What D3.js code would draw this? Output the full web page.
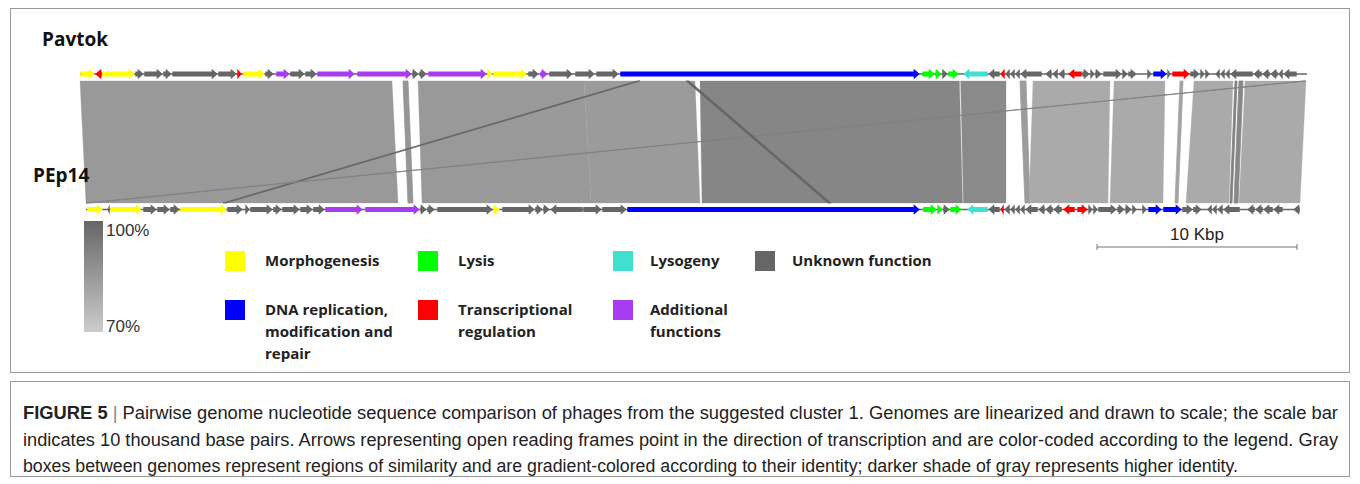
<!DOCTYPE html>
<html>
<head>
<meta charset="utf-8">
<script src="https://cdn.jsdelivr.net/npm/d3@7"></script>
<style>
  body { margin: 0; background: #fff; }
  svg { display: block; }
</style>
</head>
<body>
<div id="chart"></div>
<script>
// genome lengths in kbp
var genomeNames = ["Pavtok", "PEp14"];
var genomeLengths = [61.35, 60.7];

// genes: [start kbp, end kbp, strand, category]
var pavtokGenes = [
  [0.0, 0.75, 1, "M"], [0.75, 1.1, -1, "T"], [1.1, 2.75, 1, "M"], [2.75, 3.2, 1, "U"],
  [3.2, 4.15, 1, "U"], [4.15, 4.6, 1, "U"], [4.6, 6.9, 1, "U"], [6.9, 7.85, 1, "U"],
  [7.85, 8.1, 1, "T"], [8.15, 9.25, 1, "M"], [9.25, 9.7, 1, "U"], [9.8, 10.5, 1, "A"],
  [10.5, 11.25, 1, "U"], [11.25, 11.85, 1, "U"], [11.85, 13.75, 1, "A"], [13.85, 16.6, 1, "A"],
  [16.6, 16.95, 1, "U"], [16.95, 17.35, 1, "U"], [17.4, 20.35, 1, "A"], [20.35, 20.65, 1, "M"],
  [20.65, 22.35, 1, "M"], [22.4, 22.95, 1, "U"], [23.0, 23.4, 1, "A"], [23.45, 24.65, 1, "U"],
  [24.75, 25.75, 1, "U"], [25.8, 26.95, 1, "U"], [27.0, 42.0, 1, "D"], [42.1, 42.75, 1, "L"],
  [42.75, 43.1, 1, "L"], [43.1, 43.4, 1, "U"], [43.4, 43.95, 1, "L"], [44.15, 45.4, -1, "G"],
  [45.4, 46.0, -1, "U"], [46.0, 46.25, -1, "T"], [46.25, 46.5, -1, "U"], [46.5, 46.75, -1, "U"],
  [46.75, 47.0, -1, "U"], [47.0, 48.1, -1, "U"], [48.25, 48.6, -1, "U"], [48.6, 48.9, -1, "U"],
  [48.9, 49.25, -1, "U"], [49.4, 50.1, -1, "T"], [50.1, 50.5, 1, "U"], [50.5, 50.75, 1, "U"],
  [50.75, 51.1, 1, "U"], [51.15, 52.1, 1, "U"], [52.1, 52.4, 1, "U"], [52.4, 52.85, 1, "U"],
  [53.35, 53.6, 1, "U"], [53.65, 54.35, 1, "D"], [54.35, 54.55, 1, "U"], [54.6, 55.5, 1, "T"],
  [55.5, 56.0, 1, "U"], [56.0, 56.25, 1, "U"], [56.25, 56.5, 1, "U"], [56.75, 57.0, -1, "U"],
  [57.0, 57.25, -1, "U"], [57.25, 57.5, -1, "U"], [57.5, 58.65, -1, "U"], [58.65, 59.1, -1, "U"],
  [59.1, 59.5, -1, "U"], [59.5, 59.9, -1, "U"], [59.9, 60.15, -1, "U"], [60.15, 60.85, -1, "U"]
];

var pep14Genes = [
  [0.05, 0.85, 1, "M"], [1.05, 1.2, -1, "U"], [1.2, 2.8, 1, "M"], [2.85, 3.55, 1, "U"],
  [3.55, 4.2, 1, "U"], [4.2, 4.7, 1, "U"], [4.7, 7.05, 1, "M"], [7.05, 7.85, 1, "U"],
  [7.95, 8.2, 1, "U"], [8.2, 9.35, 1, "U"], [9.35, 9.8, 1, "U"], [9.8, 10.7, 1, "U"],
  [10.7, 11.35, 1, "U"], [11.35, 11.95, 1, "U"], [11.95, 13.85, 1, "A"], [13.95, 16.7, 1, "A"],
  [16.7, 17.05, 1, "U"], [17.05, 17.45, 1, "U"], [17.55, 20.35, 1, "U"], [20.35, 20.7, 1, "M"],
  [20.8, 22.45, 1, "U"], [22.45, 22.85, 1, "U"], [22.85, 23.2, 1, "U"], [23.2, 24.85, -1, "U"],
  [24.85, 25.8, 1, "U"], [25.8, 27.05, 1, "U"], [27.05, 41.7, 1, "D"], [41.85, 42.55, 1, "L"],
  [42.55, 42.85, 1, "L"], [42.85, 43.2, 1, "U"], [43.2, 43.8, 1, "L"], [44.05, 45.1, -1, "G"],
  [45.1, 45.7, -1, "U"], [45.7, 45.9, -1, "T"], [45.9, 46.2, -1, "U"], [46.2, 46.45, -1, "U"],
  [46.45, 46.7, -1, "U"], [46.7, 46.95, -1, "U"], [46.95, 47.6, -1, "U"], [47.6, 47.95, -1, "U"],
  [47.95, 48.35, -1, "U"], [48.35, 48.8, -1, "U"], [48.85, 49.45, -1, "T"], [49.55, 50.1, 1, "T"],
  [50.1, 50.35, 1, "U"], [50.35, 50.6, 1, "U"], [50.6, 51.55, 1, "U"], [51.55, 51.95, 1, "U"],
  [51.95, 52.3, 1, "U"], [52.3, 52.55, 1, "U"], [52.8, 53.05, 1, "U"], [53.1, 53.8, 1, "D"],
  [53.85, 54.8, 1, "D"], [54.8, 55.35, 1, "U"], [55.35, 55.8, 1, "U"], [56.05, 56.3, -1, "U"],
  [56.3, 56.55, -1, "U"], [56.55, 56.85, -1, "U"], [56.85, 57.7, -1, "U"], [58.05, 58.45, -1, "U"],
  [58.45, 58.85, -1, "U"], [58.85, 59.35, -1, "U"], [59.35, 59.85, -1, "U"], [60.35, 60.7, -1, "U"]
];

// similarity regions: [Pavtok start, Pavtok end, PEp14 start, PEp14 end, identity %]
var matches = [
  [0.0, 15.6, 0.0, 15.6, 85],
  [16.15, 16.4, 16.1, 16.35, 86],
  [16.9, 25.2, 16.8, 25.25, 85],
  [25.2, 30.75, 25.25, 30.7, 84.5],
  [31.0, 43.97, 30.8, 43.83, 90.5],
  [44.03, 46.3, 43.87, 46.0, 89.5],
  [47.0, 47.3, 46.95, 47.2, 84],
  [47.65, 51.5, 47.15, 51.1, 80],
  [51.7, 54.25, 51.2, 53.85, 80],
  [55.0, 55.15, 54.45, 54.6, 82],
  [55.7, 57.65, 55.0, 57.15, 80],
  [57.75, 57.85, 57.2, 57.3, 92],
  [57.95, 58.15, 57.4, 57.6, 90],
  [58.25, 61.3, 57.65, 60.7, 80],
  // thin cross-links
  [27.85, 28.0, 6.85, 7.0, 100],
  [61.15, 61.3, 0.0, 0.15, 92],
  [30.3, 30.45, 37.1, 37.25, 100]
];

var categories = ["M", "L", "G", "U", "D", "T", "A"];
var categoryNames = ["Morphogenesis", "Lysis", "Lysogeny", "Unknown function",
  "DNA replication,|modification and|repair", "Transcriptional|regulation", "Additional|functions"];
var categoryColors = ["#ffff00", "#00ff00", "#40e0d0", "#666666", "#0000ff", "#ff0000", "#a83cf0"];

var identityTicks = ["100%", "70%"];

var captionLines = [
  "Pairwise genome nucleotide sequence comparison of phages from the suggested cluster 1. Genomes are linearized and drawn to scale; the scale bar",
  "indicates 10 thousand base pairs. Arrows representing open reading frames point in the direction of transcription and are color-coded according to the legend. Gray",
  "boxes between genomes represent regions of similarity and are gradient-colored according to their identity; darker shade of gray represents higher identity."
];

var W = 1360, H = 484;
var pxPerKb = 20;
var topY = 74, botY = 209.5;
var matchTop = 81, matchBot = 203;

var svg = d3.select("#chart").append("svg")
    .attr("width", W)
    .attr("height", H);

// frames
svg.append("rect").attr("x", 10.5).attr("y", 8.5).attr("width", 1339).attr("height", 364)
    .attr("fill", "none").attr("stroke", "#999").attr("stroke-width", 1);
svg.append("rect").attr("x", 10.5).attr("y", 381.5).attr("width", 1339).attr("height", 95)
    .attr("fill", "none").attr("stroke", "#999").attr("stroke-width", 1);

var xTop = d3.scaleLinear().domain([0, genomeLengths[0]]).range([80, 80 + genomeLengths[0] * pxPerKb]);
var xBot = d3.scaleLinear().domain([0, genomeLengths[1]]).range([86, 86 + genomeLengths[1] * pxPerKb]);

var color = d3.scaleOrdinal().domain(categories).range(categoryColors);
var shade = d3.scaleLinear().domain([70, 100]).range(["#cccccc", "#666666"]).clamp(true);

// similarity polygons
svg.append("g").selectAll("path")
    .data(matches)
    .enter()
    .append("path")
    .attr("d", function(d) {
        return "M" + xTop(d[0]) + "," + matchTop +
               "L" + xTop(d[1]) + "," + matchTop +
               "L" + xBot(d[3]) + "," + matchBot +
               "L" + xBot(d[2]) + "," + matchBot + "Z";
    })
    .attr("fill", function(d) { return shade(d[4]); })
    .attr("stroke", function(d) { return shade(d[4]); })
    .attr("stroke-width", function(d) { return (d[1] - d[0]) < 0.5 ? 0.8 : 0.3; });

// gene arrow
function arrowPath(x1, x2, strand, y) {
    var len = x2 - x1, hl = Math.min(6, len), b = 2.6, h = 5.2;
    if (strand > 0) {
        return "M" + x1 + "," + (y - b) + "L" + (x2 - hl) + "," + (y - b) + "L" + (x2 - hl) + "," + (y - h) +
               "L" + x2 + "," + y + "L" + (x2 - hl) + "," + (y + h) + "L" + (x2 - hl) + "," + (y + b) +
               "L" + x1 + "," + (y + b) + "Z";
    }
    return "M" + x2 + "," + (y - b) + "L" + (x1 + hl) + "," + (y - b) + "L" + (x1 + hl) + "," + (y - h) +
           "L" + x1 + "," + y + "L" + (x1 + hl) + "," + (y + h) + "L" + (x1 + hl) + "," + (y + b) +
           "L" + x2 + "," + (y + b) + "Z";
}

function drawTrack(genes, x, y, len) {
    var g = svg.append("g");
    g.append("line")
        .attr("x1", x(0)).attr("x2", x(len))
        .attr("y1", y).attr("y2", y)
        .attr("stroke", "#666").attr("stroke-width", 1.6);
    g.selectAll("path")
        .data(genes)
        .enter()
        .append("path")
        .attr("d", function(d) { return arrowPath(x(d[0]) + 0.3, x(d[1]) - 0.3, d[2], y); })
        .attr("fill", function(d) { return color(d[3]); });
}
drawTrack(pavtokGenes, xTop, topY, genomeLengths[0]);
drawTrack(pep14Genes, xBot, botY, genomeLengths[1]);

// genome names
svg.append("text").attr("x", 42).attr("y", 46).text(genomeNames[0])
    .attr("font-family", "Open Sans").attr("font-weight", "bold").attr("font-size", "19px").attr("fill", "#111");
svg.append("text").attr("x", 33).attr("y", 182).text(genomeNames[1])
    .attr("font-family", "Open Sans").attr("font-weight", "bold").attr("font-size", "19px").attr("fill", "#111");

// identity gradient bar
var defs = svg.append("defs");
var grad = defs.append("linearGradient").attr("id", "idgrad")
    .attr("x1", 0).attr("y1", 0).attr("x2", 0).attr("y2", 1);
grad.append("stop").attr("offset", "0%").attr("stop-color", shade(100));
grad.append("stop").attr("offset", "100%").attr("stop-color", shade(70));
svg.append("rect").attr("x", 84).attr("y", 221).attr("width", 19).attr("height", 111)
    .attr("fill", "url(#idgrad)");
svg.selectAll(".idtick")
    .data(identityTicks)
    .enter()
    .append("text")
    .attr("class", "idtick")
    .attr("x", 106)
    .attr("y", function(d, i) { return i === 0 ? 236 : 332; })
    .text(function(d) { return d; })
    .attr("font-family", "Liberation Sans").attr("font-size", "17px").attr("fill", "#333");

// legend
var legendX = [225, 418, 613, 755];
var legendTextOff = [40, 40, 37, 37, 40, 40, 37];
var legend = svg.append("g").selectAll("g")
    .data(categories)
    .enter()
    .append("g")
    .attr("transform", function(d, i) {
        return "translate(" + legendX[i % 4] + "," + (i < 4 ? 251 : 300) + ")";
    });
legend.append("rect").attr("width", 20).attr("height", 20)
    .attr("fill", function(d) { return color(d); });
legend.append("text")
    .attr("font-family", "Open Sans").attr("font-weight", "bold").attr("font-size", "15px").attr("fill", "#222")
    .each(function(d, i) {
        var lines = categoryNames[i].split("|");
        d3.select(this).selectAll("tspan")
            .data(lines)
            .enter()
            .append("tspan")
            .attr("x", legendTextOff[i])
            .attr("y", function(l, j) { return 15 + j * 22; })
            .text(function(l) { return l; });
    });

// scale bar
var sb = svg.append("g").attr("stroke", "#777").attr("stroke-width", 1);
sb.append("line").attr("x1", 1097).attr("x2", 1097 + 10 * pxPerKb).attr("y1", 247).attr("y2", 247);
sb.append("line").attr("x1", 1097).attr("x2", 1097).attr("y1", 244).attr("y2", 250);
sb.append("line").attr("x1", 1097 + 10 * pxPerKb).attr("x2", 1097 + 10 * pxPerKb).attr("y1", 244).attr("y2", 250);
svg.append("text").attr("x", 1097 + 5 * pxPerKb).attr("y", 240).attr("text-anchor", "middle")
    .text("10 Kbp").attr("font-family", "Liberation Sans").attr("font-size", "17px").attr("fill", "#222");

// caption
var cap = svg.append("g").attr("font-family", "Liberation Sans").attr("font-size", "17.5px").attr("fill", "#222");
captionLines.forEach(function(line, i) {
    var t = cap.append("text").attr("x", 23).attr("y", 419 + i * 26.5);
    if (i === 0) {
        t.append("tspan").attr("font-weight", "bold").text("FIGURE 5 ");
        t.append("tspan").attr("fill", "#888").text("| ");
    }
    t.append("tspan").text(line);
    t.attr("textLength", i < 2 ? 1315 : 1215).attr("lengthAdjust", "spacingAndGlyphs");
});
</script>
</body>
</html>
